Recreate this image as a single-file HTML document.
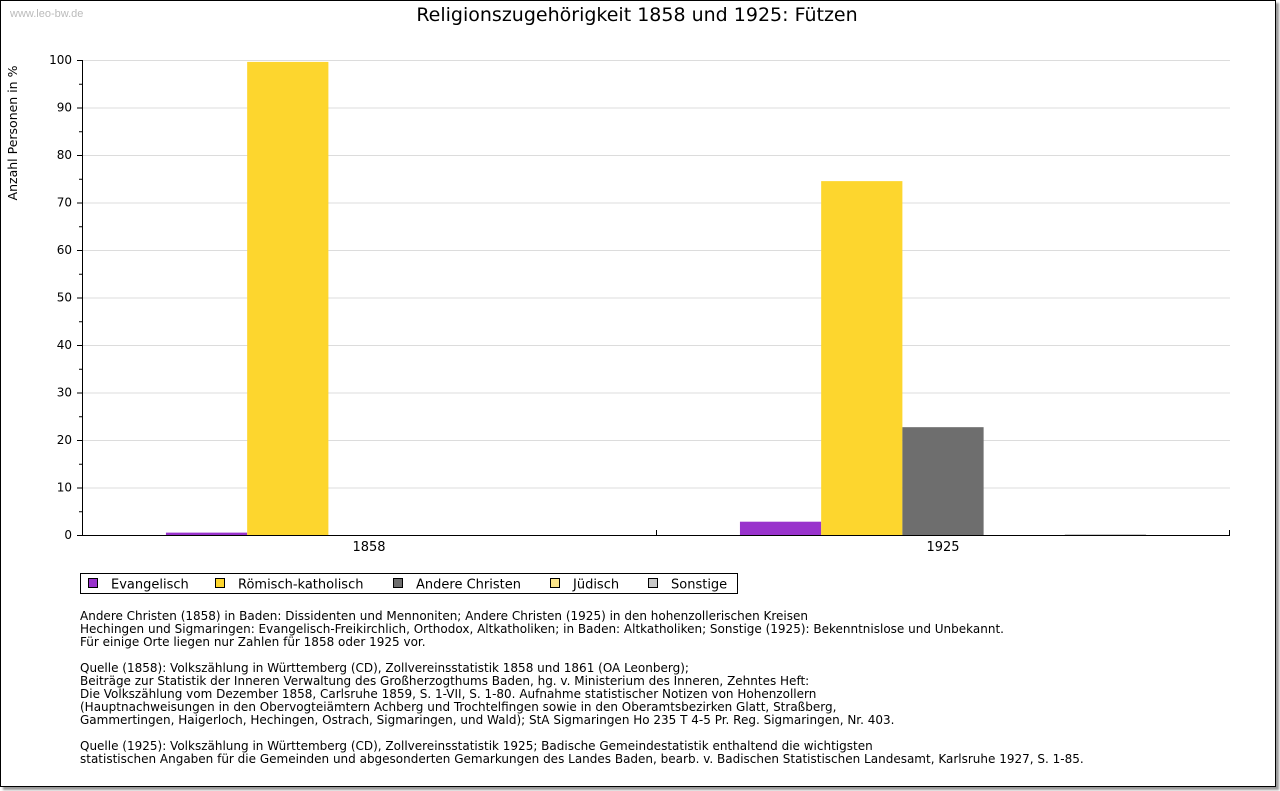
<!DOCTYPE html>
<html><head><meta charset="utf-8">
<style>
body{margin:0;background:#fff;width:1280px;height:791px;overflow:hidden;font-family:"DejaVu Sans","Liberation Sans",sans-serif;}
#frame{position:absolute;left:0;top:0;width:1274px;height:785px;border:1px solid #000;background:#fff;box-shadow:3px 3px 2px #999;}
.note{position:absolute;left:80px;font-size:12px;line-height:13px;color:#000;white-space:pre;}
</style></head><body>
<div id="frame"></div>
<svg id="chart" width="1280" height="791" style="position:absolute;left:0;top:0">
<text x="10" y="17" font-size="11" fill="#bbb" font-family="Liberation Sans, sans-serif">www.leo-bw.de</text>
<text x="637" y="21" font-size="19" text-anchor="middle" font-family="DejaVu Sans, sans-serif">Religionszugehörigkeit 1858 und 1925: Fützen</text>
<text transform="translate(17,133) rotate(-90)" font-size="12.5" text-anchor="middle">Anzahl Personen in %</text>
<g id="grid"></g><g id="bars"></g><g id="axes"></g>
</svg>
<svg width="680" height="26" style="position:absolute;left:78px;top:571px">
<rect x="2.5" y="2.5" width="657" height="20" fill="#fff" stroke="#000"/>
<g id="legend"></g>
</svg>
<div class="note" style="top:610px">Andere Christen (1858) in Baden: Dissidenten und Mennoniten; Andere Christen (1925) in den hohenzollerischen Kreisen
Hechingen und Sigmaringen: Evangelisch-Freikirchlich, Orthodox, Altkatholiken; in Baden: Altkatholiken; Sonstige (1925): Bekenntnislose und Unbekannt.
Für einige Orte liegen nur Zahlen für 1858 oder 1925 vor.</div>
<div class="note" style="top:662px">Quelle (1858): Volkszählung in Württemberg (CD), Zollvereinsstatistik 1858 und 1861 (OA Leonberg);
Beiträge zur Statistik der Inneren Verwaltung des Großherzogthums Baden, hg. v. Ministerium des Inneren, Zehntes Heft:
Die Volkszählung vom Dezember 1858, Carlsruhe 1859, S. 1-VII, S. 1-80. Aufnahme statistischer Notizen von Hohenzollern
(Hauptnachweisungen in den Obervogteiämtern Achberg und Trochtelfingen sowie in den Oberamtsbezirken Glatt, Straßberg,
Gammertingen, Haigerloch, Hechingen, Ostrach, Sigmaringen, und Wald); StA Sigmaringen Ho 235 T 4-5 Pr. Reg. Sigmaringen, Nr. 403.</div>
<div class="note" style="top:740px">Quelle (1925): Volkszählung in Württemberg (CD), Zollvereinsstatistik 1925; Badische Gemeindestatistik enthaltend die wichtigsten
statistischen Angaben für die Gemeinden und abgesonderten Gemarkungen des Landes Baden, bearb. v. Badischen Statistischen Landesamt, Karlsruhe 1927, S. 1-85.</div>
<script>
const categories = ["1858", "1925"];
const seriesNames = ["Evangelisch", "Römisch-katholisch", "Andere Christen", "Jüdisch", "Sonstige"];
const evangelisch = [0.5, 2.8];
const roemisch = [99.6, 74.5];
const andere = [0, 22.7];
const juedisch = [0, 0];
const sonstige = [0, 0.2];
const yTicks = [0, 10, 20, 30, 40, 50, 60, 70, 80, 90, 100];
const colors = ["#9933cc", "#fdd62e", "#6e6e6e", "#fde68a", "#c8c8c8"];
const series = [evangelisch, roemisch, andere, juedisch, sonstige];

const NS = "http://www.w3.org/2000/svg";
const X0 = 82, X1 = 1230, Y0 = 535, Y1 = 60;
const y = v => Y0 - (v / 100) * (Y0 - Y1);
const groupW = (X1 - X0) / categories.length;
const barW = groupW * 0.1415;
const gx = i => X0 + groupW * (i + 0.5);
function mk(tag, attrs, parent) { const e = document.createElementNS(NS, tag); for (const k in attrs) e.setAttribute(k, attrs[k]); parent.appendChild(e); return e; }
const grid = document.getElementById("grid"), bars = document.getElementById("bars"), axes = document.getElementById("axes");
yTicks.forEach(t => {
  if (t > 0) { const l = mk("line", {x1: X0, x2: X1, y1: y(t) + 0.5, y2: y(t) + 0.5, stroke: "#dcdcdc"}, grid);
      }
  mk("line", {x1: X0 - 5, x2: X0, y1: y(t) + 0.5, y2: y(t) + 0.5, stroke: "#000"}, axes);
  const mid = y(t + 5);
  if (t < 100) mk("line", {x1: X0 - 3, x2: X0, y1: mid + 0.5, y2: mid + 0.5, stroke: "#000"}, axes);
  const tx = mk("text", {x: X0 - 10, y: y(t) + 4, "font-size": 12, "text-anchor": "end"}, axes);
  tx.textContent = t;
   
});
mk("line", {x1: X0 + 0.5, x2: X0 + 0.5, y1: Y1, y2: Y0, stroke: "#000"}, axes);
mk("line", {x1: X0, x2: X1, y1: Y0 + 0.5, y2: Y0 + 0.5, stroke: "#000"}, axes);
mk("line", {x1: X1 - 0.5, x2: X1 - 0.5, y1: Y0 - 5, y2: Y0, stroke: "#000"}, axes);
mk("line", {x1: X0 + groupW + 0.5, x2: X0 + groupW + 0.5, y1: Y0 - 5, y2: Y0, stroke: "#000"}, axes);
categories.forEach((c, i) => {
  const tx = mk("text", {x: gx(i), y: Y0 + 16, "font-size": 13, "text-anchor": "middle"}, axes);
  tx.textContent = c;
   
  series.forEach((s, j) => {
    const v = s[i]; if (!(v > 0)) return;
    const bx = gx(i) + (j - 2.5) * barW;
    const r = mk("rect", {x: bx, y: y(v), width: barW, height: Y0 - y(v), fill: colors[j]}, bars);
    
    
  });
});
const leg = document.getElementById("legend");
const lx = [10, 137, 315, 472, 570];
seriesNames.forEach((n, j) => {
  const g = mk("g", {}, leg);
  
  
  mk("rect", {x: lx[j] + 0.5, y: 7.5, width: 9, height: 9, fill: colors[j], stroke: "#000"}, g);
  const t = mk("text", {x: lx[j] + 23, y: 17.5, "font-size": 13}, g);
  t.textContent = n;
});
</script>
</body></html>
